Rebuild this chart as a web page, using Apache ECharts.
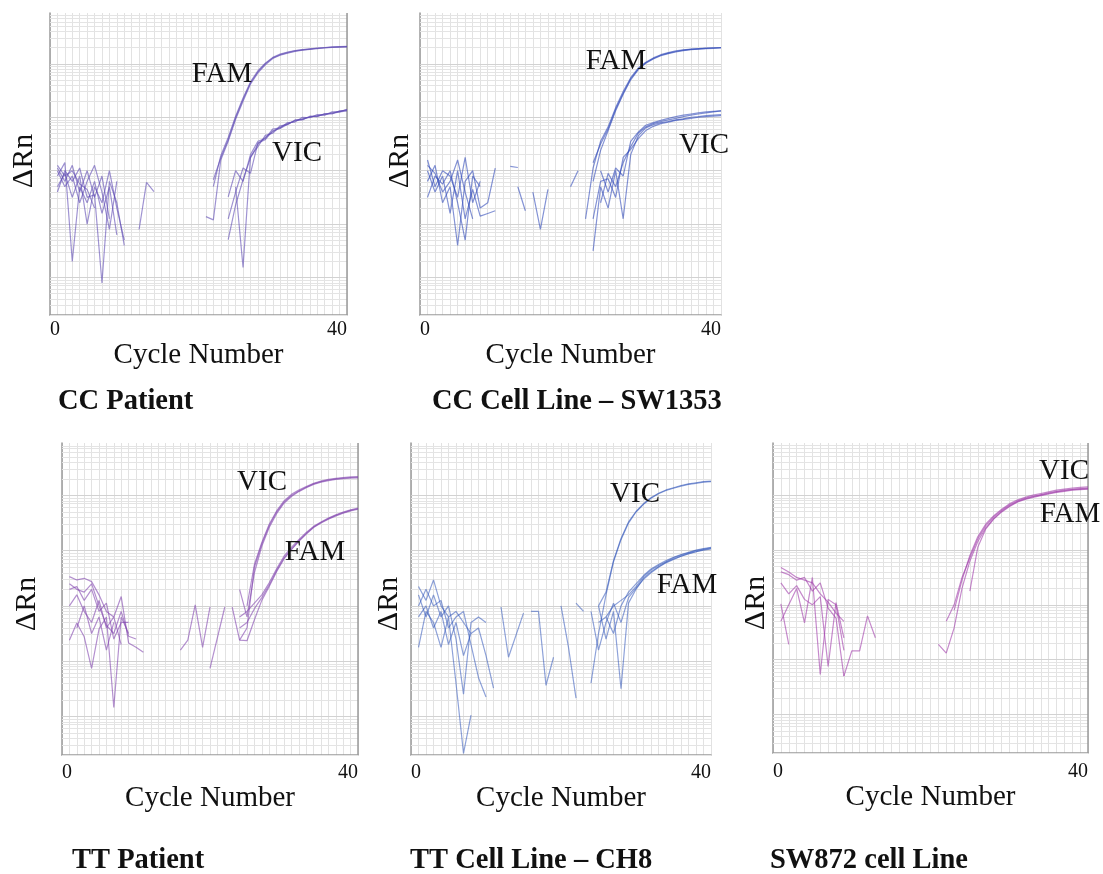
<!DOCTYPE html>
<html>
<head>
<meta charset="utf-8">
<script src="https://cdn.jsdelivr.net/npm/echarts@6/dist/echarts.min.js"></script>
<style>html,body{margin:0;padding:0;background:#fff}#c{width:1103px;height:874px}</style>
</head>
<body>
<div id="c"></div>
<script>
// ---- DATA: each trace is a list of [cycle, log10(ΔRn)] ----
const panelTitles = ['CC Patient', 'CC Cell Line – SW1353', 'TT Patient', 'TT Cell Line – CH8', 'SW872 cell Line'];
const xTickLabels = ['0', '40'];

// Panel 1: CC Patient
const ccPatientFAM = [
  [[22,-2.17],[23,-1.76],[24,-1.42],[25,-1.01],[26,-0.67],[27,-0.36],[28,-0.15],[29,0],[30,0.11],[31,0.17],[32,0.21],[33,0.24],[34,0.26],[35,0.275],[36,0.29],[37,0.30],[38,0.31],[39,0.315],[40,0.32]],
  [[21,-2.86],[22,-2.92],[23,-1.8],[24,-1.45],[25,-1.04],[26,-0.7],[27,-0.38],[28,-0.17],[29,-0.02],[30,0.1],[31,0.16],[32,0.2],[33,0.23],[34,0.255],[35,0.27],[36,0.285],[37,0.295],[38,0.305],[39,0.31],[40,0.315]],
  [[22,-2.3],[23,-1.72],[24,-1.38],[25,-0.98],[26,-0.64],[27,-0.34],[28,-0.13],[29,0.01],[30,0.12],[31,0.18],[32,0.22],[33,0.245],[34,0.265],[35,0.28],[36,0.295],[37,0.305],[38,0.315],[39,0.32],[40,0.325]]
];
const ccPatientVIC = [
  [[24,-3.29],[25,-2.64],[26,-2.17],[27,-1.76],[28,-1.5],[29,-1.38],[30,-1.27],[31,-1.19],[32,-1.12],[33,-1.07],[34,-1.03],[35,-1.0],[36,-0.97],[37,-0.95],[38,-0.92],[39,-0.89],[40,-0.86]],
  [[24,-2.49],[25,-2.0],[26,-2.2],[27,-1.7],[28,-1.45],[29,-1.4],[30,-1.22],[31,-1.2],[32,-1.1],[33,-1.09],[34,-1.0],[35,-1.01],[36,-0.95],[37,-0.96],[38,-0.9],[39,-0.9],[40,-0.85]],
  [[25,-2.3],[26,-3.81],[27,-1.74],[28,-1.55],[29,-1.34],[30,-1.3],[31,-1.16],[32,-1.14],[33,-1.05],[34,-1.05],[35,-0.98],[36,-0.99],[37,-0.93],[38,-0.94],[39,-0.88],[40,-0.87]],
  [[24,-2.9],[25,-2.4],[26,-1.95],[27,-2.05],[28,-1.48],[29,-1.42],[30,-1.25],[31,-1.21],[32,-1.13],[33,-1.06],[34,-1.04],[35,-0.99],[36,-0.98],[37,-0.94],[38,-0.93],[39,-0.9],[40,-0.88]]
];
const ccPatientBase = [
  [[1,-1.95],[2,-2.2],[3,-1.9],[4,-2.4],[5,-2.0],[6,-2.5],[7,-2.1],[8,-2.9]],
  [[1,-2.1],[2,-1.85],[3,-3.7],[4,-2.3],[5,-2.6],[6,-2.2],[7,-2.8],[8,-2.3],[9,-3.2]],
  [[1,-2.4],[2,-2.0],[3,-2.2],[4,-1.95],[5,-2.5],[6,-2.45],[7,-4.1],[8,-2.2],[9,-2.6],[10,-3.4]],
  [[1,-2.0],[2,-2.3],[3,-2.1],[4,-2.6],[5,-2.2],[6,-1.9],[7,-2.4],[8,-3.1],[9,-2.2]],
  [[1,-2.3],[2,-2.05],[3,-2.5],[4,-2.1],[5,-3.0],[6,-2.3],[7,-2.6],[8,-2.0],[9,-2.7],[10,-3.3]],
  [[1,-1.9],[2,-2.1],[3,-2.0],[4,-2.25],[5,-2.35],[6,-2.7]],
  [[12,-3.1],[13,-2.22],[14,-2.39]]
];

// Panel 2: CC Cell Line – SW1353
const ccCellFAM = [
  [[23,-1.85],[24,-1.5],[25,-1.22],[26,-0.85],[27,-0.55],[28,-0.28],[29,-0.1],[30,0.02],[31,0.1],[32,0.16],[33,0.2],[34,0.23],[35,0.255],[36,0.27],[37,0.28],[38,0.29],[39,0.295],[40,0.3]],
  [[22,-2.9],[23,-1.95],[24,-1.45],[25,-1.18],[26,-0.82],[27,-0.52],[28,-0.26],[29,-0.08],[30,0.03],[31,0.11],[32,0.17],[33,0.21],[34,0.24],[35,0.26],[36,0.275],[37,0.285],[38,0.295],[39,0.3],[40,0.305]],
  [[23,-2.2],[24,-1.62],[25,-1.25],[26,-0.88],[27,-0.57],[28,-0.3],[29,-0.11],[30,0.01],[31,0.09],[32,0.15],[33,0.19],[34,0.22],[35,0.245],[36,0.265],[37,0.275],[38,0.285],[39,0.29],[40,0.295]]
];
const ccCellVIC = [
  [[24,-2.6],[25,-2.05],[26,-2.3],[27,-1.85],[28,-1.55],[29,-1.3],[30,-1.18],[31,-1.12],[32,-1.08],[33,-1.05],[34,-1.02],[35,-0.99],[36,-0.96],[37,-0.94],[38,-0.92],[39,-0.9],[40,-0.88]],
  [[23,-3.5],[24,-2.3],[25,-2.7],[26,-2.0],[27,-2.9],[28,-1.7],[29,-1.35],[30,-1.2],[31,-1.14],[32,-1.1],[33,-1.08],[34,-1.05],[35,-1.03],[36,-1.0],[37,-0.99],[38,-0.97],[39,-0.96],[40,-0.95]],
  [[24,-2.0],[25,-2.4],[26,-1.95],[27,-2.1],[28,-1.45],[29,-1.28],[30,-1.15],[31,-1.1],[32,-1.06],[33,-1.02],[34,-0.99],[35,-0.96],[36,-0.94],[37,-0.92],[38,-0.9],[39,-0.89],[40,-0.88]],
  [[23,-2.9],[24,-2.2],[25,-2.15],[26,-2.5],[27,-1.75],[28,-1.6],[29,-1.4],[30,-1.25],[31,-1.17],[32,-1.12],[33,-1.09],[34,-1.06],[35,-1.04],[36,-1.02],[37,-1.0],[38,-0.99],[39,-0.98],[40,-0.97]]
];
const ccCellBase = [
  [[1,-1.8],[2,-2.3],[3,-2.0],[4,-2.1],[5,-2.5],[6,-1.75],[7,-2.6],[8,-2.2]],
  [[1,-2.2],[2,-1.9],[3,-2.6],[4,-2.3],[5,-3.4],[6,-2.2],[7,-2.0],[8,-2.7],[9,-2.6],[10,-1.95]],
  [[1,-2.0],[2,-2.4],[3,-2.1],[4,-2.8],[5,-2.0],[6,-2.9],[7,-2.35],[8,-2.85],[9,-2.8],[10,-2.75]],
  [[1,-2.5],[2,-2.1],[3,-2.25],[4,-2.0],[5,-2.6],[6,-3.3],[7,-2.1],[8,-2.3]],
  [[1,-1.9],[2,-2.05],[3,-2.4],[4,-2.2],[5,-1.8],[6,-2.4],[7,-2.9]],
  [[12,-1.92],[13,-1.94]],
  [[13,-2.3],[14,-2.75]],
  [[15,-2.4],[16,-3.1],[17,-2.35]],
  [[20,-2.3],[21,-2.0]]
];

// Panel 3: TT Patient
const ttPatientVIC = [
  [[24,-2.62],[25,-2.4],[26,-1.3],[27,-0.88],[28,-0.55],[29,-0.3],[30,-0.12],[31,0],[32,0.08],[33,0.15],[34,0.21],[35,0.25],[36,0.28],[37,0.3],[38,0.315],[39,0.325],[40,0.33]],
  [[24,-1.7],[25,-2.2],[26,-1.4],[27,-0.92],[28,-0.58],[29,-0.33],[30,-0.14],[31,-0.02],[32,0.07],[33,0.14],[34,0.2],[35,0.24],[36,0.27],[37,0.29],[38,0.305],[39,0.315],[40,0.32]],
  [[25,-2.0],[26,-1.25],[27,-0.85],[28,-0.52],[29,-0.28],[30,-0.1],[31,0.02],[32,0.1],[33,0.16],[34,0.22],[35,0.26],[36,0.29],[37,0.31],[38,0.325],[39,0.335],[40,0.34]]
];
const ttPatientFAM = [
  [[23,-2.02],[24,-2.62],[25,-2.63],[26,-2.25],[27,-1.9],[28,-1.65],[29,-1.38],[30,-1.15],[31,-0.98],[32,-0.83],[33,-0.7],[34,-0.58],[35,-0.5],[36,-0.43],[37,-0.37],[38,-0.32],[39,-0.28],[40,-0.25]],
  [[24,-2.2],[25,-2.1],[26,-1.95],[27,-1.8],[28,-1.58],[29,-1.33],[30,-1.1],[31,-0.94],[32,-0.8],[33,-0.67],[34,-0.56],[35,-0.48],[36,-0.41],[37,-0.35],[38,-0.3],[39,-0.26],[40,-0.23]],
  [[24,-2.4],[25,-2.3],[26,-2.05],[27,-1.85],[28,-1.62],[29,-1.36],[30,-1.13],[31,-0.97],[32,-0.82],[33,-0.69],[34,-0.57],[35,-0.49],[36,-0.42],[37,-0.36],[38,-0.31],[39,-0.27],[40,-0.24]]
];
const ttPatientBase = [
  [[1,-1.47],[2,-1.53],[3,-1.5],[4,-1.56],[5,-1.8],[6,-2.1],[7,-2.2],[8,-1.83],[9,-2.67],[10,-2.75],[11,-2.84]],
  [[1,-2.62],[2,-2.31],[3,-2.56],[4,-3.13],[5,-2.42],[6,-2.2],[7,-3.84],[8,-2.2],[9,-2.5]],
  [[1,-1.6],[2,-1.7],[3,-1.75],[4,-1.6],[5,-2.0],[6,-2.35],[7,-2.5],[8,-2.1],[9,-2.55],[10,-2.6]],
  [[1,-1.7],[2,-1.65],[3,-1.9],[4,-1.7],[5,-2.1],[6,-1.95],[7,-2.6],[8,-2.3],[9,-2.3]],
  [[1,-2.0],[2,-1.8],[3,-2.1],[4,-2.3],[5,-1.9],[6,-2.4],[7,-2.2],[8,-2.7]],
  [[2,-2.4],[3,-2.0],[4,-2.5],[5,-2.2],[6,-2.8],[7,-2.3]],
  [[16,-2.8],[17,-2.62],[18,-1.98],[19,-2.75],[20,-2.02]],
  [[20,-3.13],[22,-2.02]]
];

// Panel 4: TT Cell Line – CH8
const ttCellVIC = [
  [[24,-3.4],[25,-2.5],[26,-1.8],[27,-1.2],[28,-0.8],[29,-0.5],[30,-0.3],[31,-0.16],[32,-0.05],[33,0.03],[34,0.09],[35,0.13],[36,0.17],[37,0.2],[38,0.22],[39,0.24],[40,0.25]],
  [[25,-2.0],[26,-1.75],[27,-1.18],[28,-0.78],[29,-0.48],[30,-0.29],[31,-0.15],[32,-0.04],[33,0.04],[34,0.1],[35,0.14],[36,0.18],[37,0.21],[38,0.23],[39,0.25],[40,0.26]]
];
const ttCellFAM = [
  [[26,-2.2],[27,-2.0],[28,-1.9],[29,-1.8],[30,-1.65],[31,-1.47],[32,-1.35],[33,-1.27],[34,-1.2],[35,-1.13],[36,-1.08],[37,-1.04],[38,-1.0],[39,-0.97],[40,-0.95]],
  [[25,-2.0],[26,-2.6],[27,-2.1],[28,-3.5],[29,-1.95],[30,-1.7],[31,-1.5],[32,-1.38],[33,-1.29],[34,-1.21],[35,-1.15],[36,-1.1],[37,-1.05],[38,-1.02],[39,-0.98],[40,-0.96]],
  [[25,-2.3],[26,-2.2],[27,-2.5],[28,-2.0],[29,-1.75],[30,-1.6],[31,-1.45],[32,-1.33],[33,-1.25],[34,-1.18],[35,-1.12],[36,-1.07],[37,-1.03],[38,-0.99],[39,-0.96],[40,-0.94]],
  [[24,-2.1],[25,-2.8],[26,-2.3],[27,-1.95],[28,-2.3],[29,-1.85],[30,-1.68],[31,-1.52],[32,-1.4],[33,-1.3],[34,-1.22],[35,-1.16],[36,-1.1],[37,-1.06],[38,-1.02],[39,-0.99],[40,-0.97]]
];
const ttCellBase = [
  [[1,-1.65],[2,-1.9],[3,-1.53],[4,-2.0],[5,-2.2],[6,-2.1],[7,-2.3],[8,-2.5],[9,-2.4],[10,-2.9],[11,-3.49]],
  [[1,-2.75],[2,-2.1],[3,-2.3],[4,-2.75],[5,-2.2],[6,-3.4],[7,-4.67],[8,-3.98]],
  [[1,-2.0],[2,-1.7],[3,-2.0],[4,-1.9],[5,-2.4],[6,-2.2],[7,-2.1],[8,-2.7],[9,-3.3],[10,-3.65]],
  [[1,-1.8],[2,-2.2],[3,-1.8],[4,-2.2],[5,-2.0],[6,-2.6],[7,-3.6],[8,-2.3],[9,-2.2],[10,-2.3]],
  [[1,-2.2],[2,-2.0],[3,-2.4],[4,-2.1],[5,-2.7],[6,-2.3],[7,-2.9],[8,-2.5]],
  [[12,-2.02],[13,-2.93],[15,-2.13]],
  [[16,-2.1],[17,-2.1],[18,-3.44],[19,-2.93]],
  [[20,-2.0],[21,-2.75],[22,-3.67]],
  [[22,-1.95],[23,-2.1]]
];

// Panel 5: SW872 cell Line
const sw872Curves = [
  [[22,-2.3],[23,-2.0],[24,-1.5],[25,-1.14],[26,-0.8],[27,-0.56],[28,-0.4],[29,-0.28],[30,-0.18],[31,-0.11],[32,-0.06],[33,-0.02],[34,0.01],[35,0.04],[36,0.07],[37,0.09],[38,0.11],[39,0.12],[40,0.13]],
  [[21,-2.72],[22,-2.88],[23,-2.42],[24,-1.7],[25,-1.2],[26,-0.85],[27,-0.6],[28,-0.43],[29,-0.3],[30,-0.2],[31,-0.12],[32,-0.07],[33,-0.03],[34,0.0],[35,0.03],[36,0.06],[37,0.08],[38,0.1],[39,0.11],[40,0.12]],
  [[25,-1.75],[26,-0.95],[27,-0.62],[28,-0.44],[29,-0.31],[30,-0.21],[31,-0.13],[32,-0.08],[33,-0.04],[34,-0.01],[35,0.02],[36,0.05],[37,0.07],[38,0.09],[39,0.1],[40,0.11]],
  [[23,-2.1],[24,-1.55],[25,-1.1],[26,-0.76],[27,-0.53],[28,-0.38],[29,-0.26],[30,-0.16],[31,-0.09],[32,-0.04],[33,0.0],[34,0.03],[35,0.06],[36,0.09],[37,0.11],[38,0.13],[39,0.14],[40,0.15]]
];
const sw872Base = [
  [[1,-1.32],[2,-1.4],[3,-1.5],[4,-1.55],[5,-1.6],[6,-1.8],[7,-1.95],[8,-2.15],[9,-2.3]],
  [[1,-1.4],[2,-1.45],[3,-1.55],[4,-1.5],[5,-1.75],[6,-1.6],[7,-2.06],[8,-2.24],[9,-3.3]],
  [[1,-1.98],[2,-2.72]],
  [[1,-2.3],[2,-2.0],[3,-1.7],[4,-2.33],[5,-1.5],[6,-3.27],[7,-1.9],[8,-2.0],[9,-2.83]],
  [[1,-1.6],[2,-1.8],[3,-1.65],[4,-1.9],[5,-2.0],[6,-1.85],[7,-3.12],[8,-1.96],[9,-2.6]],
  [[9,-3.3],[10,-2.84],[11,-2.84],[12,-2.2],[13,-2.6]]
];

// ---- LAYOUT / STYLE ----
const Y_MIN = -4.7, Y_MAX = 0.95;   // log10 ΔRn range shown
const SERIF = '"Liberation Serif", "DejaVu Serif", serif';
const panels = [
  { grid: {left: 50, top: 13, width: 297, height: 302}, color: 'rgba(95,75,180,0.6)', right: true,
    yNameGap: 11, yNamePad: [0, 0, 0, 6], xLabelMargin: 5, xNameGap: 24,
    traces: [...ccPatientBase, ...ccPatientFAM, ...ccPatientVIC],
    notes: [['FAM', 222, 74], ['VIC', 297, 153]], title: [58, 402] },
  { grid: {left: 420, top: 13, width: 301, height: 302}, color: 'rgba(50,75,185,0.6)', right: false,
    yNameGap: 5, yNamePad: [0, 0, 0, 6], xLabelMargin: 5, xNameGap: 24,
    traces: [...ccCellBase, ...ccCellFAM, ...ccCellVIC],
    notes: [['FAM', 616, 61], ['VIC', 704, 145]], title: [432, 402] },
  { grid: {left: 62, top: 443, width: 296, height: 312}, color: 'rgba(130,70,175,0.6)', right: true,
    yNameGap: 20, yNamePad: [0, 10, 0, 0], xLabelMargin: 8, xNameGap: 28,
    traces: [...ttPatientBase, ...ttPatientVIC, ...ttPatientFAM],
    notes: [['VIC', 262, 482], ['FAM', 315, 552]], title: [72, 861] },
  { grid: {left: 411, top: 443, width: 300, height: 312}, color: 'rgba(50,85,185,0.55)', right: false,
    yNameGap: 7, yNamePad: [0, 10, 0, 0], xLabelMargin: 8, xNameGap: 28,
    traces: [...ttCellBase, ...ttCellVIC, ...ttCellFAM],
    notes: [['VIC', 635, 494], ['FAM', 687, 585]], title: [410, 861] },
  { grid: {left: 773, top: 443, width: 315, height: 310}, color: 'rgba(160,60,170,0.6)', right: true,
    yNameGap: 2, yNamePad: [0, 10, 0, 0], xLabelMargin: 9, xNameGap: 30,
    traces: [...sw872Base, ...sw872Curves],
    notes: [['VIC', 1064, 471], ['FAM', 1070, 514]], title: [770, 861] }
];

// log-paper grid line positions (k·10^n)
const gridLevels = [];
for (let n = -5; n <= 0; n++) for (let k = 1; k <= 9; k++) {
  const v = n + Math.log10(k);
  if (v > Y_MIN && v < Y_MAX) gridLevels.push({ v, major: k === 1 });
}

const option = { animation: false, backgroundColor: '#fff', grid: [], xAxis: [], yAxis: [], series: [], graphic: [] };

panels.forEach((p, i) => {
  option.grid.push(Object.assign({ containLabel: false }, p.grid));
  option.xAxis.push({
    gridIndex: i, type: 'value', min: 0, max: 40, interval: 1,
    name: 'Cycle Number', nameLocation: 'middle', nameGap: p.xNameGap,
    nameTextStyle: { fontFamily: SERIF, fontSize: 29, color: '#111', verticalAlign: 'top' },
    axisLine: { onZero: false, lineStyle: { color: '#9a9a9a', width: 1.5 } },
    axisTick: { show: false },
    axisLabel: { interval: 39, fontFamily: SERIF, fontSize: 20, color: '#111', margin: p.xLabelMargin,
      alignMinLabel: 'left', alignMaxLabel: 'right',
      formatter: v => (v === 0 ? xTickLabels[0] : v === 40 ? xTickLabels[1] : '') },
    splitLine: { show: true, lineStyle: { color: '#e2e2e2', width: 1 } }
  });
  option.yAxis.push({
    gridIndex: i, type: 'value', min: Y_MIN, max: Y_MAX,
    name: 'ΔRn', nameLocation: 'middle', nameGap: p.yNameGap, nameRotate: 90,
    nameTextStyle: { fontFamily: SERIF, fontSize: 30, color: '#111', padding: p.yNamePad },
    axisLine: { onZero: false, lineStyle: { color: '#9a9a9a', width: 1.5 } },
    axisTick: { show: false }, axisLabel: { show: false }, splitLine: { show: false }
  });
  // grid lines (log paper) and optional right border, kept under the traces
  const ml = gridLevels.map(g => ({ yAxis: g.v, lineStyle: { color: g.major ? '#d2d2d2' : '#e4e4e4', width: 1, type: 'solid' } }));
  if (p.right) ml.push({ xAxis: 40, lineStyle: { color: '#9a9a9a', width: 1.5, type: 'solid' } });
  option.series.push({
    type: 'line', xAxisIndex: i, yAxisIndex: i, data: [], silent: true, z: 1,
    markLine: { z: 1, silent: true, symbol: ['none', 'none'], label: { show: false }, animation: false, data: ml }
  });
  p.traces.forEach(t => option.series.push({
    type: 'line', xAxisIndex: i, yAxisIndex: i, data: t, showSymbol: false, symbol: 'none',
    silent: true, z: 8, lineStyle: { color: p.color, width: 1.2 }
  }));
  p.notes.forEach(n => option.graphic.push({
    type: 'text', x: n[1], y: n[2], z: 100,
    style: { text: n[0], font: '29px ' + SERIF, fill: '#111', textAlign: 'center', textVerticalAlign: 'middle' }
  }));
  option.graphic.push({
    type: 'text', x: p.title[0], y: p.title[1], z: 100,
    style: { text: panelTitles[i], font: 'bold 28.5px ' + SERIF, fill: '#111', textAlign: 'left', textVerticalAlign: 'middle' }
  });
});

const chart = echarts.init(document.getElementById('c'), null, { renderer: 'canvas', width: 1103, height: 874 });
chart.setOption(option);
</script>
</body>
</html>
